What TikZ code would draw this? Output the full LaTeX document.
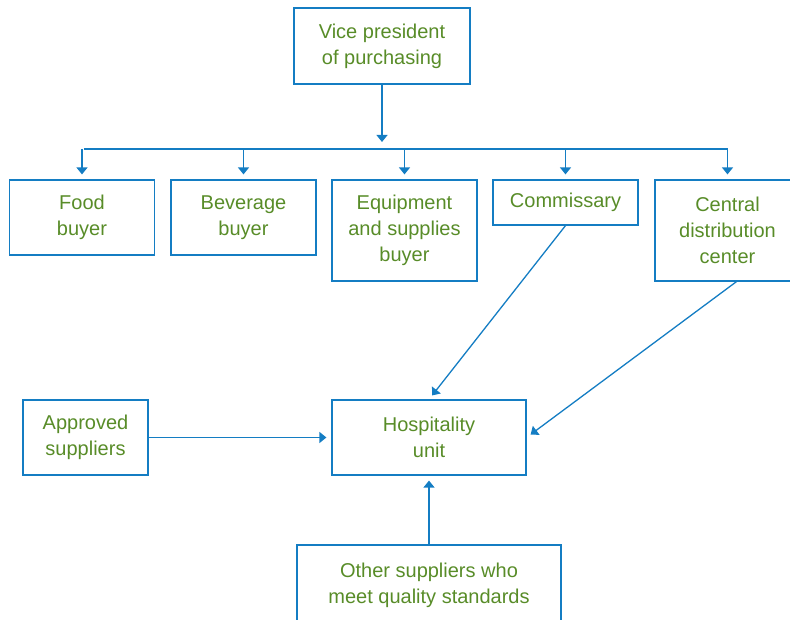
\documentclass[tikz,border=0pt]{standalone}
\usepackage{fontspec}
\setmainfont{Liberation Sans}
\usepackage{tikz}
\usetikzlibrary{arrows.meta}

\definecolor{lineblue}{RGB}{20,125,195}
\definecolor{textgreen}{RGB}{88,140,40}

\begin{document}
\begin{tikzpicture}[x=1pt, y=-1pt,
  box/.style={draw=lineblue, line width=1.2pt, text=textgreen, align=center,
    minimum width=145pt, minimum height=75pt, inner sep=0pt,
    font=\fontsize{20}{26}\selectfont},
  arr/.style={draw=lineblue, line width=1.3pt, -{Triangle[length=7pt,width=11pt]}, shorten >=5pt}]

\useasboundingbox (0,0) rectangle (790,620);

%Top of chart
\node[box, minimum width=176pt, minimum height=76pt] (vp) at (382,46) {Vice president\\of purchasing};

%Buyers row
\node[box] (food) at (82,217.5) {Food\\buyer};
\node[box] (bev) at (243.5,217.5) {Beverage\\buyer};
\node[box, minimum height=101pt] (equip) at (404.5,230.5) {Equipment\\and supplies\\buyer};
\node[box, minimum height=45pt] (comm) at (565.5,202.5) {Commissary};
\node[box, minimum height=101pt] (cdc) at (727.5,230.5) {Central\\distribution\\center};

%Lower row
\node[box, minimum width=125pt] (appr) at (85.5,437.5) {Approved\\suppliers};
\node[box, minimum width=194pt] (hosp) at (429,437.5) {Hospitality\\unit};
\node[box, minimum width=264pt, minimum height=80pt] (other) at (429,585) {Other suppliers who\\meet quality standards};

%Bus line
\coordinate (busL) at (84,149);
\coordinate (busR) at (728,149);
\draw[lineblue, line width=1.3pt] (busL) -- (busR);
\draw[arr, shorten >=7pt] (vp.south) -- (vp.south |- busL);

\foreach \n in {food, bev, equip, comm, cdc} {
\draw[arr] (\n.north |- busL) -- (\n.north);
}

%Supply arrows
\draw[arr] (appr) -- (hosp);
\draw[arr] (comm.south) -- (hosp.north);
\draw[arr] ([xshift=9pt]cdc.south) -- (hosp.east);
\draw[arr] (other.north) -- (hosp.south);

\end{tikzpicture}
\end{document}
